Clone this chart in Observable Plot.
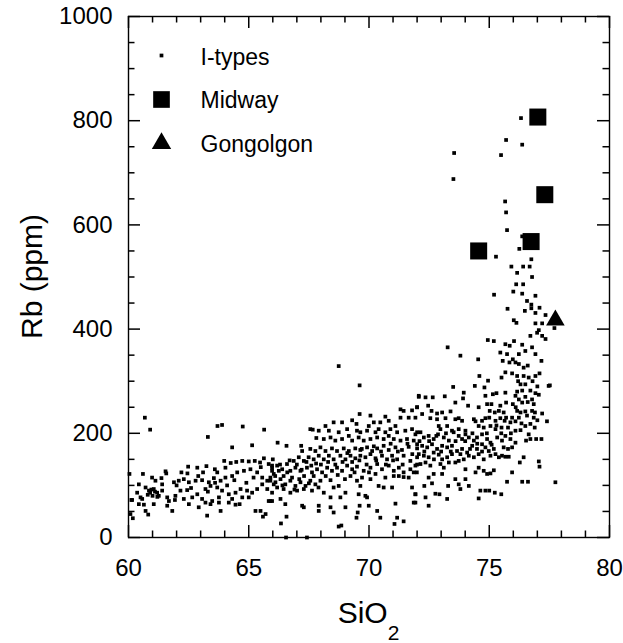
<!DOCTYPE html>
<html><head><meta charset="utf-8">
<script src="https://cdn.jsdelivr.net/npm/d3@7"></script>
<script src="https://cdn.jsdelivr.net/npm/@observablehq/plot@0.6"></script>
<style>html,body{margin:0;padding:0;background:#fff} svg{display:block}</style>
</head><body><div id="chart"></div>
<script>
// ---------- data ----------
const xTicks = [60, 65, 70, 75, 80];
const xMinorTicks = [61,62,63,64,66,67,68,69,71,72,73,74,76,77,78,79];
const yTicks = [0, 200, 400, 600, 800, 1000];
const yMinorTicks = [50,100,150,250,300,350,450,500,550,650,700,750,850,900,950];
const legendLabels = ["I-types", "Midway", "Gongolgon"];
const xLabel = "SiO", xLabelSub = "2";
const yLabel = "Rb (ppm)";

// Midway samples [SiO2, Rb]
const midway = [[77.02,807],[77.31,658],[76.74,568],[74.56,550]];
// Gongolgon sample [SiO2, Rb]
const gongolgon = [[77.75,417]];

// I-type granites [SiO2, Rb]
const iTypes = [
[76.32,805],[75.7,763],[76.37,754],[73.54,738],[75.49,734],[73.51,688],[75.66,645],[75.7,624],[75.74,590],[76.37,578],[76.25,554],[75.28,539],[76.75,534],[75.92,520],[76.41,520],[76.68,520],[76.16,508],[76.78,500],[76.12,486],[76.41,486],[75.2,466],[76.0,472],[76.37,468],[76.92,464],[76.57,454],[75.76,439],[76.48,435],[76.75,447],[76.75,440],[77.09,441],[76.92,431],[77.34,427],[76.02,417],[76.13,412],[76.92,411],[77.2,411],[77.71,402],[77.06,398],
[74.94,379],[75.19,377],[75.67,371],[75.85,368],[76.03,377],[76.37,370],[76.71,387],[76.99,393],[77.2,387],[77.34,381],[73.27,365],[73.8,349],[74.54,342],[75.46,355],[75.74,352],[76.23,352],[76.5,358],[76.78,365],[76.92,352],[77.17,339],[75.56,339],[75.84,336],[76.09,336],[76.23,333],[75.98,342],[76.43,326],
[74.59,310],[75.67,317],[75.95,315],[76.16,310],[76.43,310],[76.64,307],[76.92,310],[77.09,315],[75.51,307],[74.95,301],[76.3,294],[76.5,294],[73.5,289],[74.4,291],[74.8,288],[77.47,291],[77.52,292],
[73.94,278],[74.84,272],[75.15,275],[75.3,277],[75.67,278],[76.16,280],[76.37,282],[76.71,282],[76.92,277],[77.06,274],[76.09,272],[76.5,270],[76.23,265],[76.78,265],
[72.07,270],[72.35,269],[72.65,269],[73.15,271],[73.91,267],[73.59,259],[74.12,253],[74.56,250],[74.91,256],[75.09,256],[75.46,253],[75.7,259],[75.98,256],[76.37,259],[76.85,256],[77.2,238],[77.4,223],
[72.0,250],[72.46,253],[72.6,243],[72.83,238],[73.04,240],[73.39,242],[72.21,237],
[75.02,243],[75.23,240],[75.4,243],[75.6,240],[76.16,243],[76.5,242],[76.78,243],[76.57,234],[76.85,230],[76.23,230],[75.95,230],
[72.55,229],[72.83,227],[73.18,229],[73.59,227],[73.73,229],[73.87,224],[74.36,227],[74.43,223],[74.7,224],[74.84,229],[75.0,230],[75.26,224],[75.46,229],[75.64,224],[75.88,221],[76.09,223],[76.34,219],[76.5,214],[76.71,218],[76.89,211],
[72.9,214],[72.97,208],[73.25,214],[73.45,205],[73.73,208],[74.01,205],[74.56,214],[74.77,211],[75.05,214],[75.26,208],[75.51,211],[75.78,211],[76.09,205],[76.3,206],[76.64,198],[76.71,189],[76.95,189],[77.17,189],[76.53,186],
[71.93,198],[72.14,202],[72.28,192],[72.48,195],[72.69,189],[72.87,198],[73.11,192],[73.32,186],[73.52,202],[73.73,195],[73.87,189],[74.01,198],[74.15,192],[74.36,186],[74.49,192],[74.7,198],[74.91,189],[75.05,182],[75.33,192],[75.53,186],[75.67,195],[75.88,189],[76.09,182],[75.6,173],[75.78,170],[75.95,173],
[72.0,179],[72.21,176],[72.42,173],[72.62,179],[72.83,170],[73.04,176],[73.25,173],[73.45,176],[73.66,166],[73.87,170],[74.08,163],[74.29,176],[74.49,170],[74.7,179],[74.84,173],[74.98,166],[75.19,170],[75.26,160],[75.4,154],[75.53,157],[75.67,155],[75.81,155],[76.43,154],[76.27,144],[77.06,146],[77.09,136],
[72.07,160],[72.28,157],[72.48,154],[72.69,163],[72.9,159],[73.04,150],[73.25,154],[73.45,160],[73.73,147],[73.94,150],[74.15,157],[74.36,154],[74.56,160],[74.77,150],[75.05,157],
[72.14,141],[72.35,144],[72.55,138],[72.97,141],[73.11,134],[73.32,144],[73.59,144],[74.01,131],[74.43,125],[74.56,134],[74.77,128],[74.91,122],[75.05,123],[75.19,129],[75.95,125],
[71.99,125],[72.48,115],[72.69,122],[73.04,122],[73.59,112],[73.73,102],[74.01,112],[74.15,99],[73.8,93],[73.29,99],[72.3,99],[72.62,104],[75.74,107],[76.37,107],[76.61,107],[77.75,106],
[74.63,90],[74.84,90],[75.0,90],[75.23,86],[75.5,83],[74.56,75],[72.76,84],[72.93,83],[73.25,74],[72.35,77],[72.48,61],[71.93,83],[71.93,67],
[68.74,329],[69.61,292],[72.07,272],
[69.61,237],[70.06,234],[70.68,232],[71.31,246],[71.44,243],[71.79,244],[72.0,250],[71.65,230],[71.93,230],
[68.53,221],[68.88,221],[69.3,225],[69.48,218],[69.99,214],[70.2,221],[70.47,221],[70.82,224],[71.1,214],[71.31,230],[67.56,208],[67.66,207],[67.91,205],[68.19,214],[68.33,205],[68.74,202],[69.09,208],[69.5,205],[69.64,202],[69.92,205],[70.27,202],[70.4,208],[70.68,202],[70.89,208],[71.17,202],[71.51,205],[71.79,208],[72.0,202],
[66.2,182],[66.57,176],[67.18,176],[67.81,191],[68.12,189],[68.4,192],[68.6,186],[68.88,189],[69.16,195],[69.3,186],[69.57,192],[69.78,186],[70.06,189],[70.34,192],[70.61,189],[70.82,195],[71.03,189],[71.31,186],[71.58,189],[71.86,186],
[67.22,166],[67.56,170],[67.77,166],[67.98,173],[68.19,166],[68.46,171],[68.67,166],[68.95,171],[69.16,166],[69.43,171],[69.64,168],[69.92,173],[70.13,166],[70.34,171],[70.61,176],[70.82,168],[71.1,173],[71.37,168],[71.65,174],[72.0,171],
[65.97,134],[66.18,138],[66.39,131],[66.59,141],[66.87,147],[67.08,154],[67.29,147],[67.49,154],[67.7,150],[67.91,157],[68.12,150],[68.33,157],[68.53,150],[68.81,157],[69.02,150],[69.23,157],[69.43,152],[69.64,157],[69.85,154],[70.06,160],[70.27,152],[70.54,157],[70.75,150],[70.96,157],[71.17,150],[71.44,157],[71.72,147],[72.0,154],
[66.04,122],[66.25,128],[66.45,118],[66.73,128],[66.94,134],[67.15,128],[67.42,134],[67.63,125],[67.84,131],[68.05,125],[68.26,134],[68.46,128],[68.67,134],[68.88,128],[69.09,138],[69.3,131],[69.5,136],[69.78,128],[70.06,134],[70.34,141],[70.54,131],[70.82,138],[71.03,128],[71.24,134],[71.44,125],[71.72,131],[71.93,138],
[65.9,109],[66.11,106],[66.32,112],[66.52,102],[66.73,109],[66.94,99],[67.15,106],[67.36,99],[67.56,109],[67.77,102],[67.98,109],[68.53,96],[68.74,99],[69.23,118],[69.5,109],[69.71,115],[70.06,112],[70.27,122],[70.68,115],[70.61,96],[71.03,118],[71.24,118],[71.44,116],[71.65,115],[71.86,125],
[66.18,96],[66.45,93],[66.73,86],[67.01,90],[67.29,93],[67.63,90],[68.12,86],[68.4,77],[68.81,77],[69.02,86],[69.57,83],[69.85,80],[69.64,99],[70.4,99],[70.96,96],[71.79,96],[71.93,83],
[65.9,70],[66.32,74],[66.52,64],[67.22,61],[67.29,58],[67.91,61],[67.91,51],[68.4,58],[68.53,48],[69.02,58],[69.61,61],[69.99,61],[69.92,77],[70.34,51],[69.53,48],[69.48,38],[70.47,38],[71.1,65],[71.17,38],[71.44,31],[71.06,26],[71.86,67],[66.57,40],[66.34,27],[68.74,21],[68.85,23],[66.55,0],[67.42,0],
[60.68,230],[60.9,207],[63.3,193],[63.7,214],[63.89,216],[64.75,213],[65.64,207],[64.31,173],[65.14,177],[60.04,122],[60.6,122],[60.98,115],[60.12,72],[60.08,45],[60.18,37],[60.71,51],[60.82,44],
[62.48,136],[62.86,134],[63.24,137],[63.59,131],[63.98,147],[64.25,143],[64.48,145],[64.73,147],[65.0,146],[65.25,147],[65.47,144],[65.63,152],[65.83,141],[65.97,138],[64.03,134],[63.69,125],[63.1,125],[61.54,127],[62.45,123],
[61.37,114],[61.57,123],[61.89,106],[62.09,109],[62.3,112],[62.51,106],[62.79,109],[63.06,110],[63.34,106],[63.55,114],[63.83,109],[64.03,115],[64.31,118],[64.52,125],[64.8,128],[65.07,131],[65.35,125],[65.56,115],[65.77,109],[65.97,128],[66.04,102],[60.43,102],[60.71,96],[61.12,109],[61.4,102],
[60.36,86],[60.5,77],[60.85,90],[61.05,93],[61.19,86],[61.26,80],[61.4,90],[61.61,77],[61.95,80],[62.16,90],[62.44,91],[62.65,77],[62.86,83],[63.2,93],[63.41,99],[63.69,96],[63.89,90],[64.17,83],[64.45,86],[64.66,93],[64.93,90],[65.14,86],[65.35,93],[65.56,102],[65.77,93],[65.97,86],[60.15,72],[60.57,74],[61.68,70],[61.93,72],[62.3,74],[63.06,74],[63.48,70],[63.76,77],[64.31,74],[64.73,77],[65.0,77],[65.83,70],[65.97,70],
[60.43,64],[60.64,63],[61.05,64],[61.61,61],[61.82,51],[62.51,64],[62.92,58],[63.2,67],[63.41,64],[63.76,67],[63.83,51],[64.17,67],[64.45,63],[64.62,64],[65.28,51],[65.49,51],[65.59,40],[65.7,45],[63.27,42],
[60.8,82],[60.9,86],[61.0,80],[61.1,88],[60.95,92],[61.2,78],
[66.0,150],[66.1,118],[66.3,140],[66.4,100],[66.6,125],[66.7,148],[66.8,115],[66.9,92],[67.0,140],[67.1,112],[67.2,130],[67.3,118],[67.4,145],[67.5,104],[67.6,138],[67.7,118],[67.8,142],[67.9,96],[68.0,140],[68.2,118],[68.3,145],[68.4,110],[68.6,140],[68.7,120],[68.9,145],[69.0,112],[69.1,162],[69.3,145],[69.4,125],[69.6,148],[69.7,170],[69.9,140],[70.0,125],[70.2,175],[70.3,148],[70.5,165],[70.7,140],[70.9,180],[71.0,148],[71.2,165],[71.4,140],[71.6,180],[71.8,160],[72.0,140],
[72.1,185],[72.3,165],[72.5,185],[72.7,150],[72.8,195],[73.0,165],[73.2,200],[73.4,165],[73.6,185],[73.8,160],[74.0,185],[74.2,170],[74.3,200],[74.5,180],[74.7,165],[74.9,200],[75.1,178],[75.3,215],[75.5,200],[75.7,230],[75.9,200],[76.1,250],[76.3,240],[76.6,260],[76.9,240],[77.0,225],[76.2,300],[76.6,330],[76.8,300],[77.0,290],
[62.0,100],[62.2,125],[62.6,95],[62.9,118],[63.3,88],[63.6,105],[64.1,100],[64.4,110],[64.9,105],[65.2,115],[65.5,135],[65.9,115]
];

// ---------- chart ----------
const W = 623, H = 643;
const ML = 128, MR = 14, MT = 16, MB = 106;
const FW = W - ML - MR, FH = H - MT - MB;
const xDomain = [60, 80], yDomain = [0, 1000];
const MAJOR = 12, MINOR = 6.5;  // tick lengths in px
const font = "'Liberation Sans', Arial, Helvetica, sans-serif";
const legendDy = [41, 84, 128];
const tickStyle = {stroke: "black", strokeWidth: 1.5};

const marks = [
  Plot.axisX(xTicks, {tickSize: 0, tickPadding: 21, label: null, fontSize: 24, tickFormat: d => String(d)}),
  Plot.axisY(yTicks, {tickSize: 0, tickPadding: 16, label: null, fontSize: 24, tickFormat: d => String(d)}),
  Plot.frame({stroke: "black", strokeWidth: 1.4}),
  // inward ticks on all four sides (insets leave only a short stub at each edge)
  Plot.ruleX(xTicks, {x: d => d, insetTop: FH - MAJOR, ...tickStyle}),
  Plot.ruleX(xMinorTicks, {x: d => d, insetTop: FH - MINOR, ...tickStyle}),
  Plot.ruleX(xTicks, {x: d => d, insetBottom: FH - MAJOR, ...tickStyle}),
  Plot.ruleX(xMinorTicks, {x: d => d, insetBottom: FH - MINOR, ...tickStyle}),
  Plot.ruleY(yTicks, {y: d => d, insetRight: FW - MAJOR, ...tickStyle}),
  Plot.ruleY(yMinorTicks, {y: d => d, insetRight: FW - MINOR, ...tickStyle}),
  Plot.ruleY(yTicks, {y: d => d, insetLeft: FW - MAJOR, ...tickStyle}),
  Plot.ruleY(yMinorTicks, {y: d => d, insetLeft: FW - MINOR, ...tickStyle}),
  // data
  Plot.dot(iTypes, {x: d => d[0], y: d => d[1], symbol: "square", r: 2.1, fill: "black", stroke: "none"}),
  Plot.dot(midway, {x: d => d[0], y: d => d[1], symbol: "square", r: 9.6, fill: "black", stroke: "none"}),
  Plot.dot(gongolgon, {x: d => d[0], y: d => d[1], symbol: "triangle", r: 6.9, fill: "black", stroke: "none"}),
  // legend
  Plot.dot([legendLabels[0]], {frameAnchor: "top-left", dx: 33, dy: 39, symbol: "square", r: 2.1, fill: "black", stroke: "none"}),
  Plot.dot([legendLabels[1]], {frameAnchor: "top-left", dx: 33, dy: 83, symbol: "square", r: 9.4, fill: "black", stroke: "none"}),
  Plot.dot([legendLabels[2]], {frameAnchor: "top-left", dx: 33, dy: 127, symbol: "triangle", r: 7.2, fill: "black", stroke: "none"}),
  ...legendLabels.map((lab, i) =>
    Plot.text([lab], {text: d => d, frameAnchor: "top-left", dx: 72, dy: legendDy[i],
      fontSize: 23, textAnchor: "start", lineAnchor: "middle", fill: "black"}))
];

const plot = Plot.plot({
  width: W, height: H,
  marginLeft: ML, marginRight: MR, marginTop: MT, marginBottom: MB,
  x: {domain: xDomain},
  y: {domain: yDomain},
  style: {fontFamily: font, fontSize: "24px", color: "black", background: "white", overflow: "visible"},
  marks
});

const svg = d3.select(plot);
const xl = svg.append("text")
  .attr("x", ML + FW / 2).attr("y", 623)
  .attr("text-anchor", "middle")
  .attr("fill", "black")
  .style("font-size", "30px").style("font-family", font);
xl.append("tspan").text(xLabel);
xl.append("tspan").attr("dy", 17).style("font-size", "21px").text(xLabelSub);

svg.append("text")
  .attr("transform", `translate(42,${MT + FH / 2}) rotate(-90)`)
  .attr("text-anchor", "middle")
  .attr("fill", "black")
  .style("font-size", "30px").style("font-family", font)
  .text(yLabel);

document.getElementById("chart").appendChild(plot);
</script>
</body></html>
